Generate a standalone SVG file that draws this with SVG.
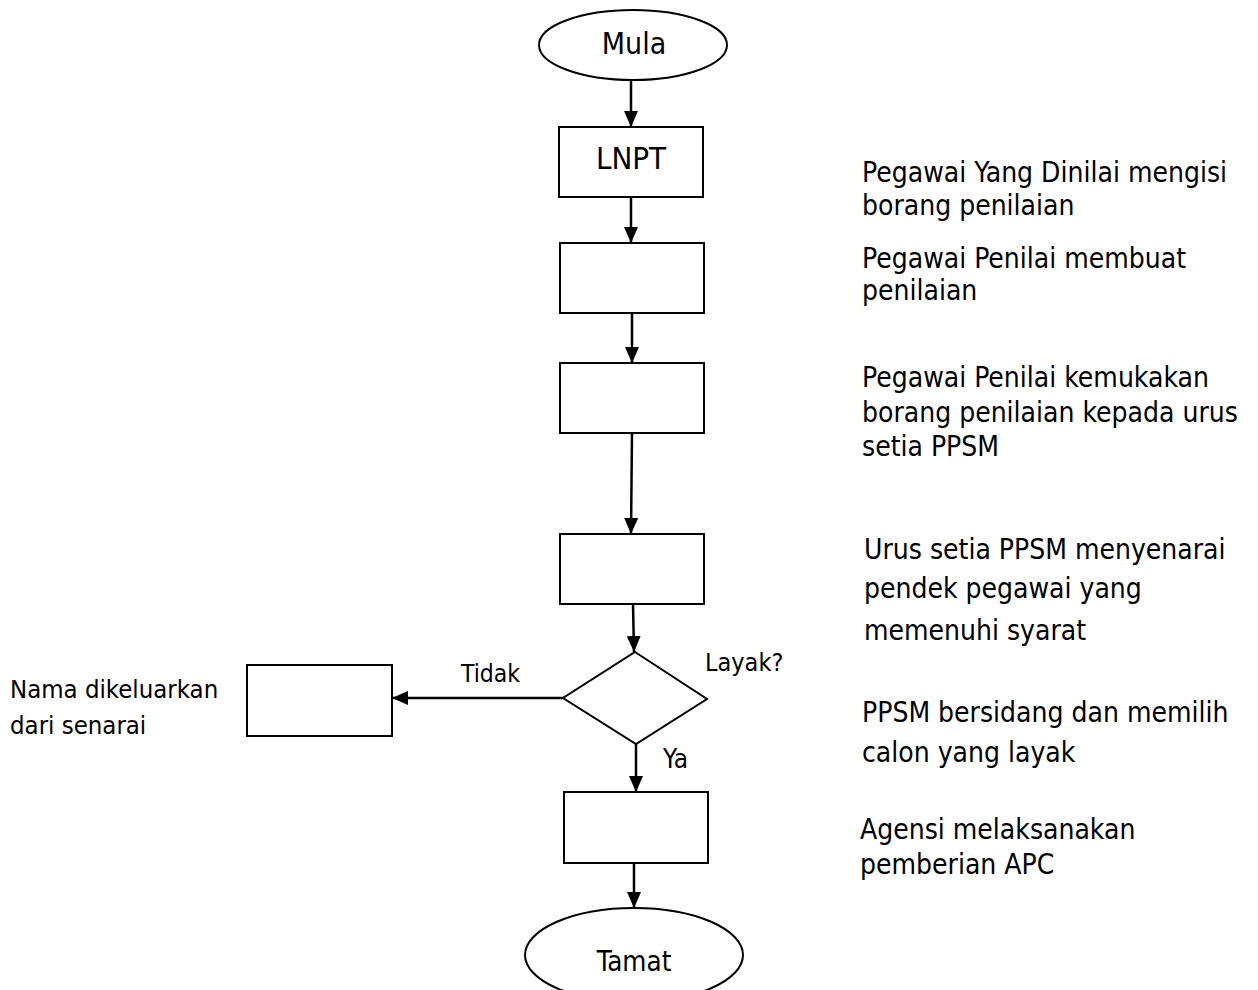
<svg xmlns="http://www.w3.org/2000/svg" width="1258" height="990" viewBox="0 0 1258 990">
<defs>
<style>
.shape{fill:#fff;stroke:#000;stroke-width:2}
.conn{fill:none;stroke:#000;stroke-width:2.5}
.lbl{font-family:"DejaVu Sans Condensed","DejaVu Sans","Liberation Sans",sans-serif;font-stretch:condensed;fill:#000}
.side{font-family:"DejaVu Sans Condensed","DejaVu Sans","Liberation Sans",sans-serif;font-stretch:condensed;font-size:28px;fill:#000}
.mid{text-anchor:middle}
</style>
<marker id="arr" markerUnits="userSpaceOnUse" markerWidth="16" markerHeight="14" refX="16" refY="7" orient="auto">
<path d="M0,0 L16,7 L0,14 Z" fill="#000"/>
</marker>
</defs>
<rect width="1258" height="990" fill="#fff"/>
<g id="connectors">
<line class="conn" x1="631" y1="80" x2="631" y2="127" marker-end="url(#arr)"/>
<line class="conn" x1="631" y1="197" x2="631" y2="243" marker-end="url(#arr)"/>
<line class="conn" x1="632" y1="313" x2="632" y2="363" marker-end="url(#arr)"/>
<line class="conn" x1="632" y1="433" x2="631" y2="534" marker-end="url(#arr)"/>
<line class="conn" x1="633" y1="604" x2="634" y2="652" marker-end="url(#arr)"/>
<line class="conn" x1="563" y1="698" x2="392" y2="698" marker-end="url(#arr)"/>
<line class="conn" x1="636" y1="744" x2="636" y2="792" marker-end="url(#arr)"/>
<line class="conn" x1="634" y1="863" x2="634" y2="908" marker-end="url(#arr)"/>
</g>
<g id="mula">
<ellipse class="shape" cx="633" cy="45" rx="94" ry="35"/>
<text class="lbl mid" x="634" y="54" font-size="30">Mula</text>
</g>
<g id="lnpt">
<rect class="shape" x="559" y="127" width="144" height="70"/>
<text class="lbl mid" x="631" y="169" font-size="31">LNPT</text>
</g>
<g id="box2">
<rect class="shape" x="560" y="243" width="144" height="70"/>
</g>
<g id="box3">
<rect class="shape" x="560" y="363" width="144" height="70"/>
</g>
<g id="box4">
<rect class="shape" x="560" y="534" width="144" height="70"/>
</g>
<g id="decision">
<polygon class="shape" points="635,652 707,699 636,744 563,698"/>
<text class="lbl" x="705" y="671" font-size="25">Layak?</text>
<text class="lbl" x="461" y="682" font-size="24.5">Tidak</text>
<text class="lbl" x="663" y="768" font-size="26">Ya</text>
</g>
<g id="reject">
<rect class="shape" x="247" y="665" width="145" height="71"/>
<text class="lbl" x="10" y="698" font-size="25.5">Nama dikeluarkan</text>
<text class="lbl" x="10" y="734" font-size="25.5">dari senarai</text>
</g>
<g id="box5">
<rect class="shape" x="564" y="792" width="144" height="71"/>
</g>
<g id="tamat">
<ellipse class="shape" cx="634" cy="955" rx="109" ry="47"/>
<text class="lbl mid" x="634" y="971" font-size="27.5">Tamat</text>
</g>
<g id="notes">
<text class="side" x="862" y="182">Pegawai Yang Dinilai mengisi</text>
<text class="side" x="862" y="215">borang penilaian</text>
<text class="side" x="862" y="268">Pegawai Penilai membuat</text>
<text class="side" x="862" y="300">penilaian</text>
<text class="side" x="862" y="387">Pegawai Penilai kemukakan</text>
<text class="side" x="862" y="422">borang penilaian kepada urus</text>
<text class="side" x="862" y="456">setia PPSM</text>
<text class="side" x="864" y="559">Urus setia PPSM menyenarai</text>
<text class="side" x="864" y="598">pendek pegawai yang</text>
<text class="side" x="864" y="640">memenuhi syarat</text>
<text class="side" x="862" y="722">PPSM bersidang dan memilih</text>
<text class="side" x="862" y="762">calon yang layak</text>
<text class="side" x="860" y="839">Agensi melaksanakan</text>
<text class="side" x="860" y="874">pemberian APC</text>
</g>
</svg>
